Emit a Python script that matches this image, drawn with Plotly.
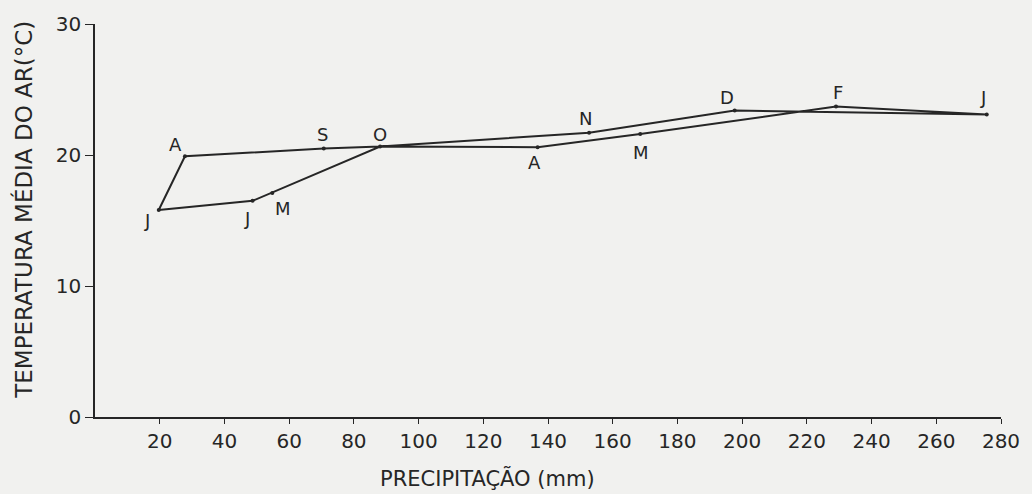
import plotly.graph_objects as go

# ---- data ----
months = ["J", "F", "M", "A", "M", "J", "J", "A", "S", "O", "N", "D"]
precip_mm = [275.6, 229.0, 168.5, 136.8, 54.8, 48.7, 19.7, 27.8, 70.7, 88.1, 152.7, 197.7]
temp_c = [23.1, 23.7, 21.6, 20.6, 17.1, 16.5, 15.8, 19.9, 20.5, 20.65, 21.7, 23.4]
# order in which the drawn line visits the month points (the April line runs back through the October point)
path_order = [0, 1, 2, 3, 9, 4, 5, 6, 7, 8, 9, 10, 11, 0]

x_ticks = [20, 40, 60, 80, 100, 120, 140, 160, 180, 200, 220, 240, 260, 280]
y_ticks = [0, 10, 20, 30]

x_title = "PRECIPITAÇÃO (mm)"
y_title = "TEMPERATURA MÉDIA DO AR(°C)"

# ---- label placement (pixel offsets from each point) ----
label_offsets = [(-4, -17), (2, -14), (1, 18), (-3, 15), (11, 16), (-6, 18),
                 (-12, 10), (-9, -12), (-1, -14), (0, -12), (-4, -14), (-8, -13)]

INK = "#262626"
FONT = "DejaVu Sans"
BG = "#f1f1ef"

fig = go.Figure()
fig.add_trace(go.Scatter(
    x=[precip_mm[i] for i in path_order],
    y=[temp_c[i] for i in path_order],
    mode="lines",
    line=dict(color=INK, width=2),
    hoverinfo="skip",
    showlegend=False,
))
fig.add_trace(go.Scatter(
    x=precip_mm, y=temp_c, mode="markers",
    marker=dict(color=INK, size=4),
    text=months, showlegend=False,
))

annotations = []
for m, px, ty, (dx, dy) in zip(months, precip_mm, temp_c, label_offsets):
    annotations.append(dict(
        x=px, y=ty, xref="x", yref="y", text=m, showarrow=False,
        xshift=dx, yshift=-dy, xanchor="center", yanchor="middle",
        font=dict(family=FONT, size=18, color=INK),
    ))
annotations.append(dict(
    x=-0.0785, y=0.527, xref="paper", yref="paper", text=y_title,
    textangle=-90, showarrow=False, xanchor="center", yanchor="middle",
    font=dict(family=FONT, size=23, color=INK),
))
annotations.append(dict(
    x=0.433, y=-0.155, xref="paper", yref="paper", text=x_title,
    showarrow=False, xanchor="center", yanchor="middle",
    font=dict(family=FONT, size=21, color=INK),
))

fig.update_layout(
    width=1032, height=494,
    margin=dict(l=95, r=26, t=21, b=77),
    paper_bgcolor=BG, plot_bgcolor=BG,
    annotations=annotations,
    xaxis=dict(
        range=[0, 280], tickvals=x_ticks, ticktext=[str(v) for v in x_ticks],
        showgrid=False, zeroline=False, showline=True, linecolor=INK, linewidth=1.6,
        ticks="outside", ticklen=5, tickwidth=1.4, tickcolor=INK,
        tickfont=dict(family=FONT, size=20, color=INK),
    ),
    yaxis=dict(
        range=[0, 30], tickvals=y_ticks, ticktext=[str(v) for v in y_ticks],
        showgrid=False, zeroline=False, showline=True, linecolor=INK, linewidth=1.6,
        ticks="outside", ticklen=8, tickwidth=1.4, tickcolor=INK,
        tickfont=dict(family=FONT, size=20, color=INK),
    ),
)

fig.write_html("out.html")
